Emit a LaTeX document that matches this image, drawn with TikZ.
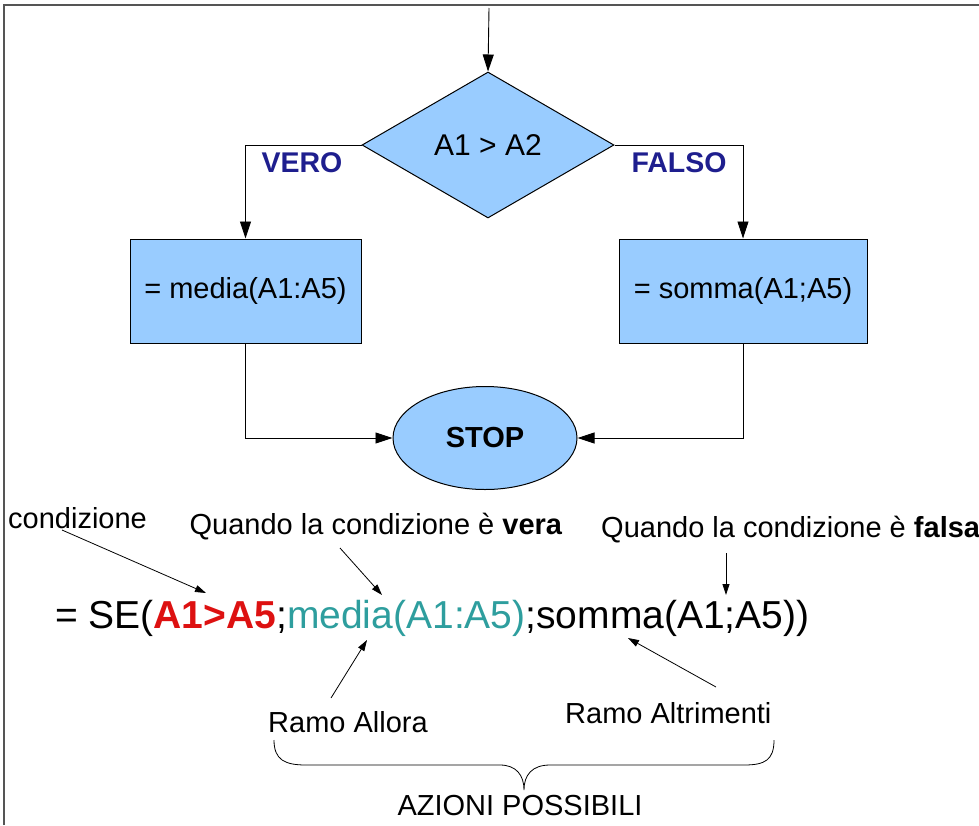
\documentclass[tikz,border=0pt]{standalone}
\usepackage{fontspec}
\setmainfont{Liberation Sans}
\usetikzlibrary{shapes.geometric,arrows.meta}
\definecolor{boxblue}{HTML}{99CCFF}
\definecolor{labblue}{HTML}{1E1E8E}
\definecolor{fred}{HTML}{DD1111}
\definecolor{fteal}{HTML}{2E9E9E}
\definecolor{framegray}{HTML}{555555}
\begin{document}
\begin{tikzpicture}[x=1pt,y=-1pt,
  shapebox/.style={draw=black, line width=1pt, fill=boxblue, inner sep=0pt, font=\fontsize{29}{31}\selectfont},
  arr/.style={line width=0.9pt, -{Triangle[length=17pt,width=11pt]}},
  thinarr/.style={line width=0.8pt, -{Triangle[length=11pt,width=7pt]}},
  lab/.style={font=\fontsize{28.5}{30}\selectfont\bfseries, text=labblue, inner sep=0pt},
  note/.style={font=\fontsize{29}{31}\selectfont, inner sep=0pt}
]
\useasboundingbox (0,0) rectangle (979,825);
\draw[framegray, line width=1.5pt] (4,825) -- (4,5) -- (979,5);

% flowchart
\coordinate (start) at (489,8);
\node[shapebox, diamond, minimum width=252pt, minimum height=146pt, font=\fontsize{30}{32}\selectfont] (cond) at (488,145) {A1 > A2};
\node[shapebox, rectangle, minimum width=231pt, minimum height=104pt] (media) at (245.5,291) {= media(A1:A5)};
\node[shapebox, rectangle, minimum width=248pt, minimum height=104pt] (somma) at (743,291) {= somma(A1;A5)};
\node[shapebox, ellipse, minimum width=184pt, minimum height=103pt, font=\fontsize{29}{31}\selectfont\bfseries] (stop) at (485,438) {STOP};

\draw[arr] (start) -- (cond.north);
\draw[arr] (cond.west) -| (media.north);
\draw[arr] (cond.east) -| (somma.north);
\draw[arr] (media.south) |- (stop.west);
\draw[arr] (somma.south) |- (stop.east);

\node[lab] (vero) at (302,163) {VERO};
\node[lab] (falso) at (679,163) {FALSO};

% formula
\node[font=\fontsize{39}{42}\selectfont, anchor=base west, inner sep=0pt] (formula) at (55,628)
  {= SE(\textcolor{fred}{\textbf{A1>A5}};\textcolor{fteal}{media(A1:A5)};somma(A1;A5))};

\node[note, anchor=west] (condiz) at (8,518) {condizione};
\node[note] (vera) at (376,527) {Quando la condizione è \textbf{vera}};
\node[note, anchor=west] (falsa) at (601,530) {Quando la condizione è \textbf{falsa}};
\node[note, anchor=west] (allora) at (268,722) {Ramo Allora};
\node[note, anchor=west] (altrim) at (565,713) {Ramo Altrimenti};
\node[note] (azioni) at (520,806) {AZIONI POSSIBILI};

\coordinate (c1) at (62,530);  \coordinate (c2) at (206,593);
\coordinate (v1) at (340,548); \coordinate (v2) at (382,595);
\coordinate (f1) at (726,553); \coordinate (f2) at (726,595);
\coordinate (a1) at (331,698); \coordinate (a2) at (367,640);
\coordinate (t1) at (716,687); \coordinate (t2) at (628,638);
\draw[thinarr] (c1) -- (c2);
\draw[thinarr] (v1) -- (v2);
\draw[thinarr] (f1) -- (f2);
\draw[thinarr] (a1) -- (a2);
\draw[thinarr] (t1) -- (t2);

% brace
\draw[line width=0.8pt] (274,740) .. controls (274,760) and (285,765) .. (306,765)
  -- (500,765) .. controls (516,765) and (524,775) .. (524,790)
  .. controls (524,775) and (532,765) .. (550,765)
  -- (744,765) .. controls (765,765) and (774,760) .. (774,740);
\end{tikzpicture}
\end{document}
